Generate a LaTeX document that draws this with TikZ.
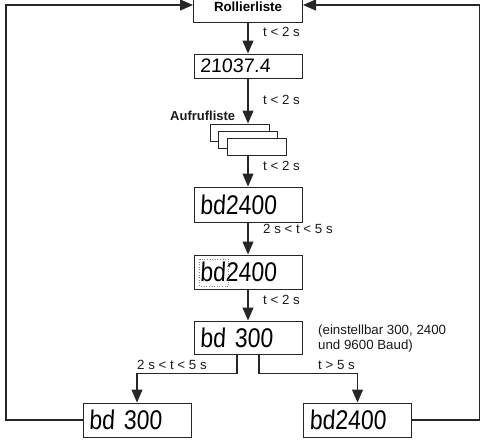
\documentclass[tikz,border=0pt]{standalone}
\usepackage{fontspec}
\usepackage{graphicx}
\setmainfont{Liberation Sans}
\newfontfamily\segfont[FakeSlant=0.06]{Liberation Sans}
\usetikzlibrary{arrows.meta,calc}
\newcommand\segtext[3]{\segfont\fontsize{#1}{#1}\selectfont\scalebox{#2}[1]{#3}}
\begin{document}
\begin{tikzpicture}[x=1pt,y=-1pt,
 line/.style={draw=black!85, line width=1.1pt},
 arr/.style={line, -{Triangle[length=13pt,width=11pt]}},
 lbl/.style={font=\fontsize{13.3}{15}\selectfont, text=black!90, inner sep=0pt, anchor=west},
 disp/.style={draw=black!85, line width=1pt, text width=96pt, inner xsep=6pt, inner ysep=0pt, align=left, minimum height=35pt},
 stackbox/.style={draw=black!85, line width=1pt, fill=white, minimum width=59pt, minimum height=17pt, inner sep=0pt},
]
\useasboundingbox (0,0) rectangle (481,439);
\clip (0,0) rectangle (481,439);

\node[draw=black!85, line width=1pt, minimum width=109pt, minimum height=32pt, anchor=south, font=\bfseries\fontsize{13.3}{15}\selectfont] (roll) at (248,23) {Rollierliste};

\node[disp, minimum height=24pt] (d1) at (248,66) {\segtext{19.5}{1}{21037.4}};

\node[stackbox] (s1) at (239.5,132.5) {};
\node[stackbox] (s2) at (248,139.5) {};
\node[stackbox] (s3) at (256.5,146.5) {};
\node[lbl, font=\bfseries\fontsize{13}{15}\selectfont] (auf) at (170,116) {Aufrufliste};

\node[disp] (d2) at (248,204.5) {\segtext{27}{0.85}{bd2400}};
\node[disp, minimum height=34pt] (d3) at (248,272) {\segtext{27}{0.85}{bd2400}};
\draw[black!50, dotted, line width=0.6pt] ($(d3.west)+(6,-13)$) rectangle ($(d3.west)+(35,14)$);
\node[disp, minimum height=33pt] (d4) at (248,337.5) {\segtext{27}{0.85}{bd~\kern.278em300}};
\node[disp, minimum height=34pt] (d5) at (137,420) {\segtext{27}{0.85}{bd~\kern.278em300}};
\node[disp, minimum height=34pt] (d6) at (357.5,420) {\segtext{27}{0.85}{bd2400}};

\draw[arr] (roll.south) -- (d1.north);
\draw[arr] (d1.south) -- (d1.south |- s1.north);
\draw[arr] (d2.north |- s3.south) -- (d2.north);
\draw[arr] (d2.south) -- (d3.north);
\draw[arr] (d3.south) -- (d4.north);
\draw[arr] ($(d4.south)+(-11,0)$) |- ($(d5.north)+(0,-29)$) -- (d5.north);
\draw[arr] ($(d4.south)+(11,0)$) |- ($(d6.north)+(0,-29)$) -- (d6.north);

\coordinate (lt) at (6,5);
\coordinate (rt) at (479.5,5);
\draw[arr] (d5.west) -| (lt) -- (lt -| roll.west);
\draw[arr] (d6.east) -| (rt) -- (rt -| roll.east);

\node[lbl] (l1) at (263,32) {t < 2 s};
\node[lbl] (l2) at (263,100) {t < 2 s};
\node[lbl] (l3) at (263,166) {t < 2 s};
\node[lbl] (l4) at (263,229) {2 s < t < 5 s};
\node[lbl] (l5) at (263,300) {t < 2 s};
\node[lbl, align=left] (note) at (318,338.5) {(einstellbar 300, 2400\\und 9600 Baud)};
\node[lbl] (l6) at (137,365) {2 s < t < 5 s};
\node[lbl] (l7) at (318,365) {t > 5 s};
\end{tikzpicture}
\end{document}
